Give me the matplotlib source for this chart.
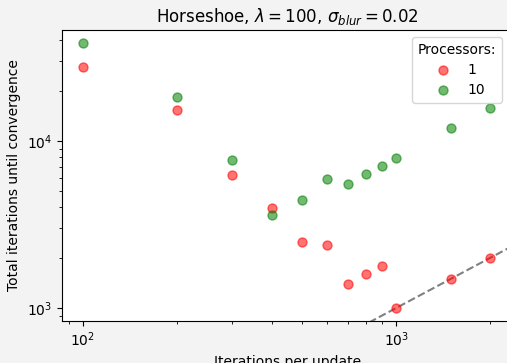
import numpy as np
import matplotlib
matplotlib.use("Agg")
import matplotlib.pyplot as plt

# Iterations per update tried in the experiment
iters_per_update = [100, 200, 300, 400, 500, 600, 700, 800, 900, 1000, 1500, 2000]

# Total iterations until convergence for each processor count
total_iters_p1 = [27700, 15400, 6260, 3970, 2480, 2380, 1390, 1600, 1780, 1000, 1490, 1990]
total_iters_p10 = [38500, 18300, 7730, 3590, 4450, 5910, 5540, 6340, 7080, 7910, 11900, 15800]

processor_labels = ["1", "10"]

fig = plt.figure(figsize=(5.07, 3.63), dpi=100, facecolor="#f3f3f3")
ax = fig.add_axes([0.1223, 0.1157, 0.89, 0.8017])

ax.set_xscale("log")
ax.set_yscale("log")

# Reference line: one iteration per update step
ref = np.array([50, 5000])
ax.plot(ref, ref, linestyle="--", color="gray", linewidth=1.5, zorder=1)

ax.scatter(iters_per_update, total_iters_p1, color="red", alpha=0.55,
           s=42, label=processor_labels[0], zorder=2)
ax.scatter(iters_per_update, total_iters_p10, color="green", alpha=0.55,
           s=42, label=processor_labels[1], zorder=2)

ax.set_xlim(85.7, 2365)
ax.set_ylim(836, 46200)

ax.set_title(r"Horseshoe, $\lambda = 100$, $\sigma_{blur} = 0.02$", fontsize=12)
ax.set_xlabel("Iterations per update", fontsize=10)
ax.set_ylabel("Total iterations until convergence", fontsize=10)

ax.legend(title="Processors:", loc="upper right",
          bbox_to_anchor=(502 / 507, 1 - 37 / 363),
          bbox_transform=fig.transFigure, borderaxespad=0,
          fontsize=10, title_fontsize=10,
          borderpad=0.4, labelspacing=0.45, handletextpad=0.8)

fig.savefig("out.png", dpi=100, facecolor=fig.get_facecolor())
